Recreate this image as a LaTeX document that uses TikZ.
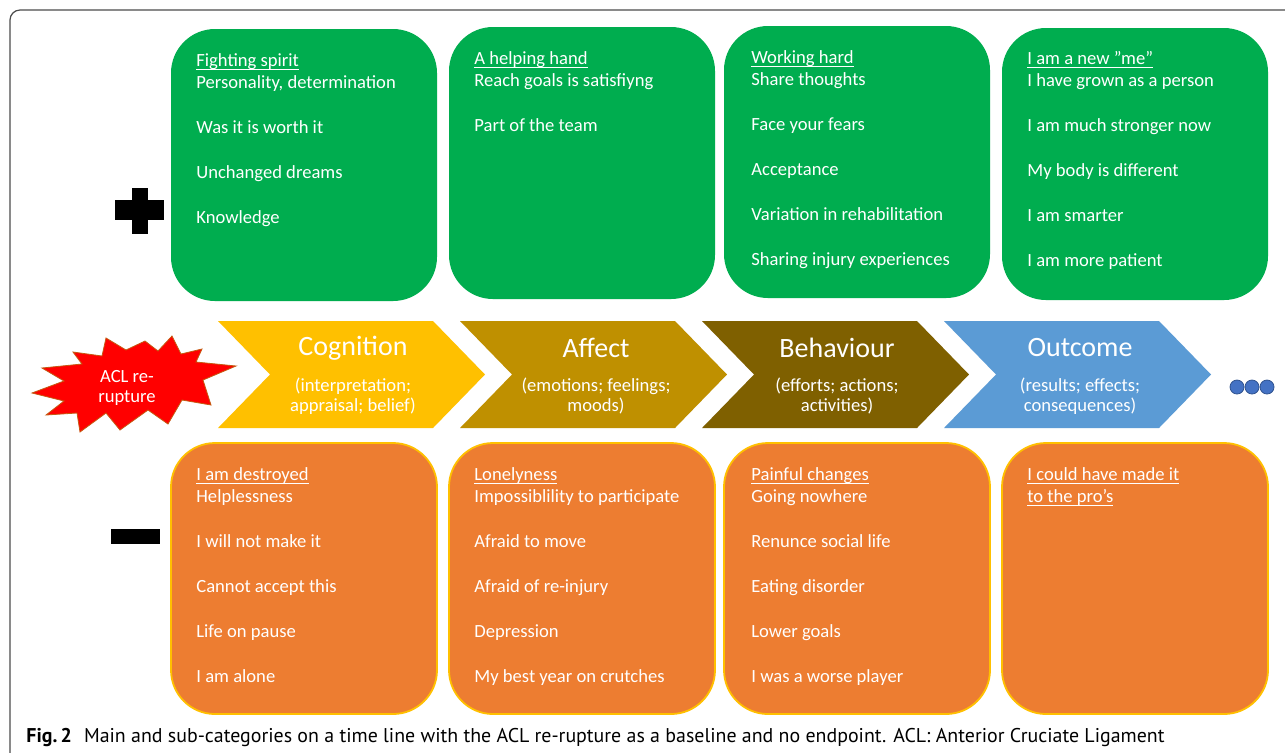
\documentclass[tikz,border=0pt]{standalone}
\usepackage{fontspec}
\setmainfont{Carlito}
\newfontfamily\capfont{PT Sans}
\newcommand\ulx[1]{\setbox0\hbox{#1}\rlap{\rule[-1.7pt]{\wd0}{0.55pt}}\box0}
\definecolor{boxgreen}{HTML}{00AD4F}
\definecolor{boxorange}{HTML}{ED7D31}
\definecolor{boxgold}{HTML}{FFC000}
\definecolor{affectc}{HTML}{BF9000}
\definecolor{behavc}{HTML}{7F6000}
\definecolor{outc}{HTML}{5B9BD5}
\definecolor{dotblue}{HTML}{4472C4}
\definecolor{dotedge}{HTML}{2F528F}
\definecolor{starred}{HTML}{FF0000}
\definecolor{staredge}{HTML}{C55A11}
\begin{document}
\begin{tikzpicture}[x=0.5pt,y=-0.5pt,
  posbox/.style={fill=boxgreen, rounded corners=22pt, minimum width=133pt, minimum height=136pt, inner sep=0pt},
  negbox/.style={fill=boxorange, draw=boxgold, line width=0.9pt, rounded corners=22pt, minimum width=133pt, minimum height=135.5pt, inner sep=0pt},
  boxtext/.style={text=white, anchor=north west, inner sep=0pt, align=left, font=\fontsize{9.3}{11.1}\selectfont},
  chevtitle/.style={text=white, inner sep=0pt, font=\fontsize{14}{16}\selectfont},
  chevsub/.style={text=white, inner sep=0pt, align=center, font=\fontsize{9.3}{10}\selectfont},
  dotnode/.style={circle, fill=dotblue, draw=dotedge, line width=0.4pt, minimum size=7pt, inner sep=0pt}
]
\useasboundingbox (0,0) rectangle (1285,752);
\clip (0,0) rectangle (1285,752);
\fill[white] (0,0) rectangle (1285,752);
% outer frame
\draw[black!70, line width=0.6pt, rounded corners=5pt] (1300,10) -- (10,10) -- (10,770);

% plus and minus signs
\fill[black] (132,188) rectangle (148,234);
\fill[black] (115,200) rectangle (164,220);
\fill[black] (111,529) rectangle (160,544);

% green boxes
\node[posbox] (g1) at (304,165) {};
\node[posbox] (g2) at (582,163) {};
\node[posbox] (g3) at (857,162) {};
\node[posbox] (g4) at (1135,164) {};

\node[boxtext] (tg1) at (196,53) {\ulx{Fighting spirit}\\ Personality, determination\\[11.4pt] Was it is worth it\\[11.4pt] Unchanged dreams\\[11.4pt] Knowledge};
\node[boxtext] (tg2) at (474,51) {\ulx{A helping hand}\\ Reach goals is satisfiyng\\[11.4pt] Part of the team};
\node[boxtext] (tg3) at (751,50) {\ulx{Working hard}\\ Share thoughts\\[11.4pt] Face your fears\\[11.4pt] Acceptance\\[11.4pt] Variation in rehabilitation\\[11.4pt] Sharing injury experiences};
\node[boxtext] (tg4) at (1027,51) {\ulx{I am a new ”me”}\\ I have grown as a person\\[11.4pt] I am much stronger now\\[11.4pt] My body is different\\[11.4pt] I am smarter\\[11.4pt] I am more patient};

% chevrons
\fill[boxgold] (218,321) -- (433,321) -- (485,374.5) -- (433,428) -- (218,428) -- (270,374.5) -- cycle;
\fill[affectc] (460,321) -- (675,321) -- (727,374.5) -- (675,428) -- (460,428) -- (512,374.5) -- cycle;
\fill[behavc] (702,321) -- (917,321) -- (969,374.5) -- (917,428) -- (702,428) -- (754,374.5) -- cycle;
\fill[outc] (944,321) -- (1159,321) -- (1211,374.5) -- (1159,428) -- (944,428) -- (996,374.5) -- cycle;

\node[chevtitle] (c1) at (353,348) {Cognition};
\node[chevsub] (s1) at (353,396) {(interpretation;\\appraisal; belief)};
\node[chevtitle] (c2) at (596,348) {Affect};
\node[chevsub] (s2) at (596,396) {(emotions; feelings;\\moods)};
\node[chevtitle] (c3) at (837,348) {Behaviour};
\node[chevsub] (s3) at (837,396) {(efforts; actions;\\activities)};
\node[chevtitle] (c4) at (1080,348) {Outcome};
\node[chevsub] (s4) at (1080,396) {(results; effects;\\consequences)};

% star
\filldraw[fill=starred, draw=staredge, line width=0.4pt]
  (32,393) -- (64,381) -- (42,368) -- (82,364) -- (73,352) -- (102,356) -- (106,338)
  -- (126,350) -- (145,341) -- (158,351) -- (172,336) -- (181,354) -- (202,349)
  -- (196,362) -- (236,366) -- (203,380) -- (211,405) -- (182,400) -- (168,424)
  -- (148,410) -- (120,430) -- (106,413) -- (80,432) -- (77,413) -- (46,415)
  -- (64,401) -- cycle;
\node[text=white, inner sep=0pt, align=center, font=\fontsize{9.3}{10}\selectfont] (acl) at (127,388) {ACL re-\\rupture};

% dots
\node[dotnode] (d1) at (1237,387) {};
\node[dotnode] (d2) at (1252,387) {};
\node[dotnode] (d3) at (1267,387) {};

% orange boxes
\node[negbox] (o1) at (304,578.5) {};
\node[negbox] (o2) at (582,578.5) {};
\node[negbox] (o3) at (857,578.5) {};
\node[negbox] (o4) at (1135,578.5) {};

\node[boxtext] (to1) at (196,467) {\ulx{I am destroyed}\\ Helplessness\\[11.4pt] I will not make it\\[11.4pt] Cannot accept this\\[11.4pt] Life on pause\\[11.4pt] I am alone};
\node[boxtext] (to2) at (474,467) {\ulx{Lonelyness}\\ Impossiblility to participate\\[11.4pt] Afraid to move\\[11.4pt] Afraid of re-injury\\[11.4pt] Depression\\[11.4pt] My best year on crutches};
\node[boxtext] (to3) at (751,467) {\ulx{Painful changes}\\ Going nowhere\\[11.4pt] Renunce social life\\[11.4pt] Eating disorder\\[11.4pt] Lower goals\\[11.4pt] I was a worse player};
\node[boxtext] (to4) at (1027,467) {\ulx{I could have made it}\\ \ulx{to the pro’s}};

% caption
\node[anchor=west, inner sep=0pt, font=\capfont\fontsize{9.95}{12}\selectfont] (cap) at (26,737) {\textbf{Fig.\,2}\hspace{6pt}Main and sub-categories on a time line with the ACL re-rupture as a baseline and no endpoint. ACL: Anterior Cruciate Ligament};
\end{tikzpicture}
\end{document}
